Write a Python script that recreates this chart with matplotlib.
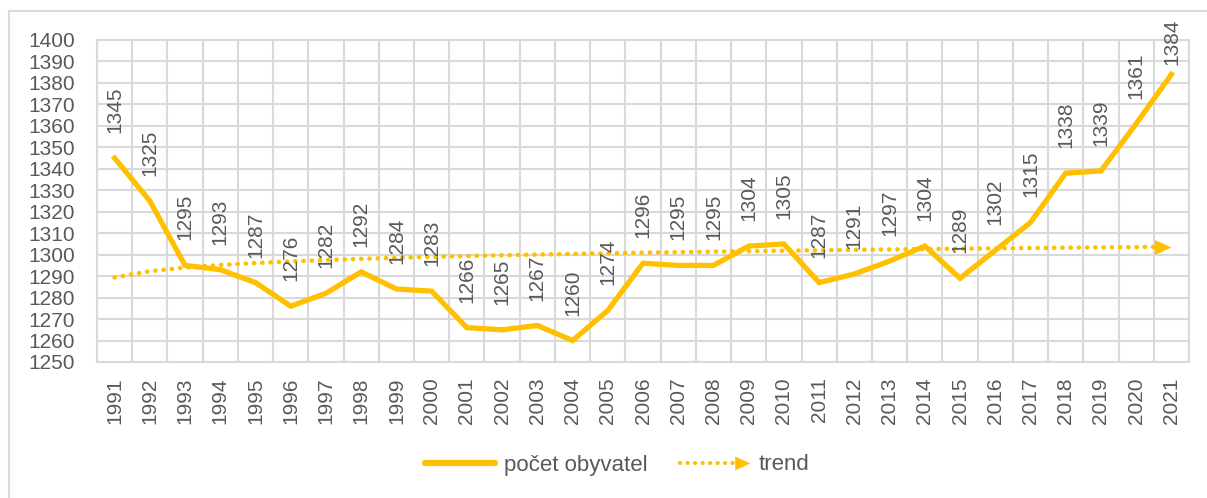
import numpy as np
import matplotlib
matplotlib.use("Agg")
import matplotlib.pyplot as plt
from matplotlib.lines import Line2D
from matplotlib.path import Path
from matplotlib.legend_handler import HandlerBase
from matplotlib.patches import Rectangle

years = [str(y) for y in range(1991, 2022)]
population = [1345, 1325, 1295, 1293, 1287, 1276, 1282, 1292, 1284, 1283,
              1266, 1265, 1267, 1260, 1274, 1296, 1295, 1295, 1304, 1305,
              1287, 1291, 1297, 1304, 1289, 1302, 1315, 1338, 1339, 1361, 1384]
y_ticks = list(range(1250, 1401, 10))
series_name = "počet obyvatel"
trend_name = "trend"

COLOR = "#FFC000"
TEXT = "#595959"
GRID = "#D9D9D9"
FONT = ["Liberation Sans", "DejaVu Sans"]
FS = 15
plt.rcParams['font.family'] = FONT

W, H, DPI = 1207, 498, 100
fig = plt.figure(figsize=(W / DPI, H / DPI), dpi=DPI)
L, R, T, B = 97, 1189, 40, 362
ax = fig.add_axes([L / W, 1 - B / H, (R - L) / W, (B - T) / H])

n = len(years)
x = np.arange(n)
vals = np.array(population, dtype=float)

# logarithmic trend (Excel-style)
lx = np.log(x + 1)
a, b = np.polyfit(lx, vals, 1)
trend = a * lx + b

DOTS = (0, (0.05, 1.75))
ax.plot(x, vals, color=COLOR, lw=3.8, solid_joinstyle='miter', zorder=3)
ax.plot(x[:-1].tolist() + [x[-1] - 0.4], trend[:-1].tolist() + [trend[-1]],
        color=COLOR, lw=3.3, linestyle=DOTS, dash_capstyle='round', zorder=2)
tri = Path([(-1.0, 0.45), (0.0, 0.0), (-1.0, -0.45), (-1.0, 0.45)],
           [Path.MOVETO, Path.LINETO, Path.LINETO, Path.CLOSEPOLY])
ax.plot([x[-1]], [trend[-1]], marker=tri, markersize=24, color=COLOR,
        markeredgewidth=0, zorder=2)

ax.set_xlim(-0.5, n - 0.5)
ax.set_ylim(1250, 1400)
ax.set_yticks(y_ticks)
ax.set_xticks(x)
ax.set_xticklabels(years, rotation=90)
ax.set_xticks(np.arange(-0.5, n, 1.0), minor=True)
ax.grid(False)
ax.grid(True, which='minor', axis='x', color=GRID, lw=1.5)
ax.grid(True, which='major', axis='y', color=GRID, lw=1.5)
ax.set_axisbelow(True)
for s in ax.spines.values():
    s.set_color(GRID)
    s.set_linewidth(1.5)
ax.tick_params(axis='both', which='both', length=0, colors=TEXT, labelsize=FS)
ax.tick_params(axis='y', pad=16)
ax.tick_params(axis='x', pad=11)

# data labels
fig.canvas.draw()
for xi, v in zip(x, vals):
    px = ax.transData.transform((xi, v))
    top_px = H - px[1]  # from top
    offset = 25
    label_h = 47
    if top_px - offset - label_h < 18:
        offset = max(4, top_px - label_h - 18)
    ax.annotate(f"{int(v)}", (xi, v), xytext=(0, offset * 72 / DPI),
                textcoords='offset points', rotation=90, ha='center',
                va='bottom', fontsize=FS, color=TEXT, annotation_clip=False,
                zorder=4)


class ArrowHandler(HandlerBase):
    def create_artists(self, legend, orig_handle, xdescent, ydescent,
                       width, height, fontsize, trans):
        y = height / 2 - ydescent
        x0, x1 = -xdescent, width - xdescent
        ln = Line2D([x0, x1 - 12], [y, y], color=COLOR, lw=3.0,
                    linestyle=DOTS, dash_capstyle='round',
                    transform=trans)
        mk = Line2D([x1], [y], marker=tri, markersize=22, color=COLOR,
                    markeredgewidth=0, transform=trans, linestyle='none')
        return [ln, mk]


LFS = 16
h1 = Line2D([], [], color=COLOR, lw=4.5, solid_capstyle='round')
h2 = Line2D([], [], color=COLOR)
leg = fig.legend([h1, h2], [series_name, trend_name],
                 handler_map={h2: ArrowHandler()},
                 loc='center', bbox_to_anchor=(617 / W, 1 - 465 / H),
                 ncol=2, frameon=False, fontsize=LFS, handlelength=3.15,
                 columnspacing=1.45, handletextpad=0.4, labelcolor=TEXT)

fig.add_artist(Rectangle((9 / W, -0.05), 1.2, 1 - 11 / H + 0.05,
                         transform=fig.transFigure, fill=False,
                         edgecolor=GRID, lw=1.5))

fig.savefig("out.png", dpi=DPI)
